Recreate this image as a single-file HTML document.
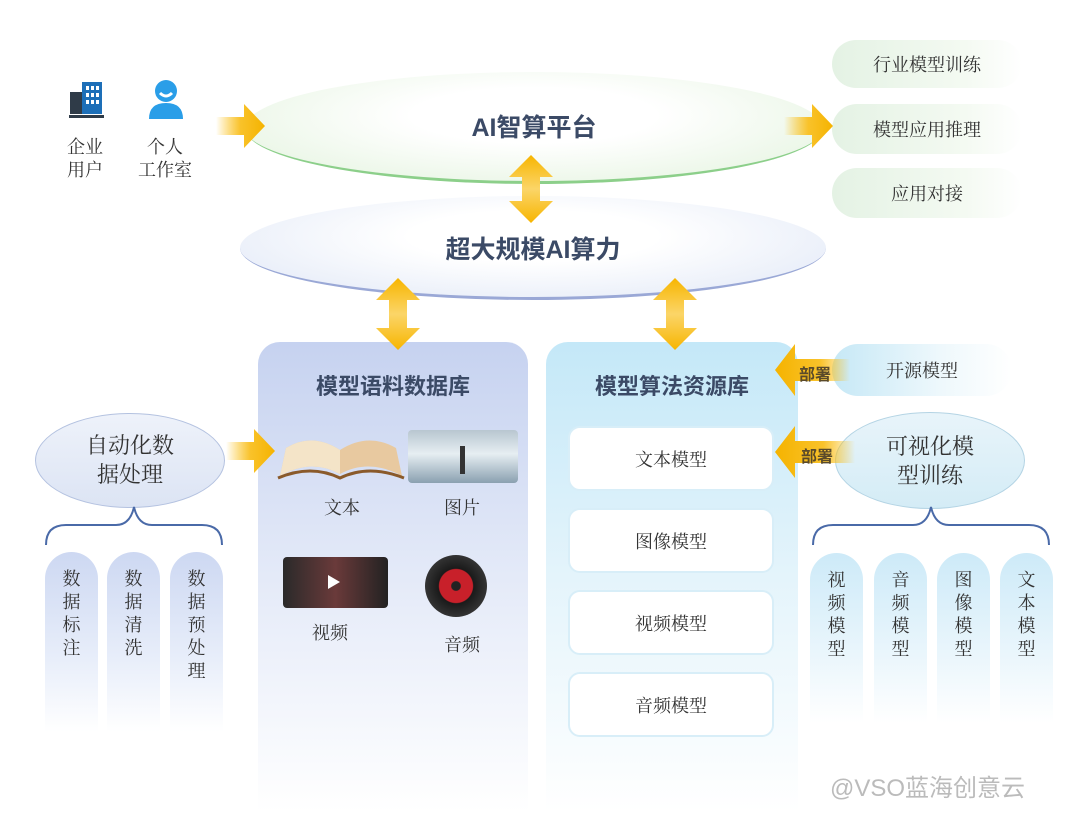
<!DOCTYPE html>
<html><head><meta charset="utf-8"><style>
body{margin:0;width:1080px;height:820px;background:#fff;position:relative;overflow:hidden;font-family:"Liberation Serif","Noto Serif CJK SC","Noto Sans CJK SC",serif;color:#333}
.a{position:absolute}
.t{position:absolute;text-align:center;white-space:nowrap}
.b{font-family:"Liberation Sans","Noto Sans CJK SC",sans-serif;font-weight:bold;color:#3b4a66}
.pill{position:absolute;border-radius:26px;background:linear-gradient(90deg,#e4f2e4,#f4faf2 70%,#fff);font-size:18px;display:flex;align-items:center;justify-content:center;color:#333}
.mb{position:absolute;left:568px;width:206px;height:65px;background:#fff;border:2px solid #d8eef8;border-radius:12px;box-sizing:border-box;font-size:18px;display:flex;align-items:center;justify-content:center}
.vp{position:absolute;width:53px;border-radius:27px 27px 0 0;background:linear-gradient(180deg,#cdeaf8,#eaf6fc 60%,#fff);font-size:18px;line-height:23px;text-align:center;padding-top:16px;box-sizing:border-box}
.vl{background:linear-gradient(180deg,#cdd8f2,#e8eefa 60%,#fff)}
</style></head><body>
<!-- icons -->
<svg class="a" style="left:68px;top:80px" width="38" height="40"><rect x="2" y="12" width="12" height="22" fill="#2f3b48"/><rect x="14" y="2" width="20" height="32" fill="#1d6fb8"/><g fill="#fff"><rect x="18" y="6" width="3" height="4"/><rect x="23" y="6" width="3" height="4"/><rect x="28" y="6" width="3" height="4"/><rect x="18" y="13" width="3" height="4"/><rect x="23" y="13" width="3" height="4"/><rect x="28" y="13" width="3" height="4"/><rect x="18" y="20" width="3" height="4"/><rect x="23" y="20" width="3" height="4"/><rect x="28" y="20" width="3" height="4"/></g><rect x="1" y="35" width="35" height="3" fill="#2f3b48"/></svg>
<svg class="a" style="left:146px;top:79px" width="40" height="42"><circle cx="20" cy="12" r="11" fill="#2a9ee8"/><path d="M3 40 Q3 24 20 24 Q37 24 37 40Z" fill="#2a9ee8"/><path d="M14 14 Q20 20 26 14" stroke="#fff" stroke-width="3" fill="none"/></svg>
<div class="t" style="left:60px;top:136px;width:50px;font-size:18px;line-height:23px">企业<br>用户</div>
<div class="t" style="left:130px;top:136px;width:70px;font-size:18px;line-height:23px">个人<br>工作室</div>
<!-- ellipses -->
<div class="a" style="left:245px;top:72px;width:578px;height:112px;border-radius:50%;background:radial-gradient(ellipse at 50% 40%,#fff 30%,#eaf6e6 80%);border-bottom:3px solid #8ccf8a;box-sizing:border-box"></div>
<div class="t b" style="left:245px;top:108px;width:578px;font-size:25px">AI智算平台</div>
<div class="a" style="left:240px;top:196px;width:586px;height:104px;border-radius:50%;background:radial-gradient(ellipse at 50% 40%,#fff 30%,#e6ecf8 85%);border-bottom:3px solid #9aa8d6;box-sizing:border-box"></div>
<div class="t b" style="left:240px;top:230px;width:586px;font-size:25px">超大规模AI算力</div>
<!-- right pills -->
<div class="pill" style="left:832px;top:40px;width:190px;height:48px">行业模型训练</div>
<div class="pill" style="left:832px;top:104px;width:190px;height:50px">模型应用推理</div>
<div class="pill" style="left:832px;top:168px;width:190px;height:50px">应用对接</div>
<div class="pill" style="left:832px;top:344px;width:180px;height:52px;background:linear-gradient(90deg,#c6e8f6,#eef8fc 60%,#fff)">开源模型</div>
<!-- panels -->
<div class="a" style="left:258px;top:342px;width:270px;height:470px;border-radius:22px 22px 0 0;background:linear-gradient(180deg,#c6d2f0,#e4eaf8 50%,#fff)"></div>
<div class="t b" style="left:258px;top:369px;width:270px;font-size:22px">模型语料数据库</div>
<div class="a" style="left:546px;top:342px;width:252px;height:470px;border-radius:22px 22px 0 0;background:linear-gradient(180deg,#c4e8f8,#e4f4fb 50%,#fff)"></div>
<div class="t b" style="left:546px;top:369px;width:252px;font-size:22px">模型算法资源库</div>
<div class="mb" style="top:426px">文本模型</div>
<div class="mb" style="top:508px">图像模型</div>
<div class="mb" style="top:590px">视频模型</div>
<div class="mb" style="top:672px">音频模型</div>
<!-- media -->
<svg class="a" style="left:276px;top:428px" width="130" height="56"><path d="M4 48 Q35 30 64 46 Q93 30 126 48 L120 20 Q92 4 64 22 Q36 4 10 20Z" fill="#e8c9a0"/><path d="M10 20 Q36 4 64 22 L64 46 Q35 30 4 48Z" fill="#f4e4c8"/><path d="M2 50 Q35 36 64 50 Q93 36 128 50" stroke="#8a5a2a" stroke-width="3" fill="none"/></svg>
<div class="a" style="left:408px;top:430px;width:110px;height:53px;border-radius:4px;background:linear-gradient(180deg,#b8c6d0,#e6eef2 45%,#8aa0b0)"></div>
<div class="a" style="left:460px;top:446px;width:5px;height:28px;background:#333"></div>
<div class="t" style="left:317px;top:494px;width:50px;font-size:18px">文本</div>
<div class="t" style="left:437px;top:494px;width:50px;font-size:18px">图片</div>
<div class="a" style="left:283px;top:557px;width:105px;height:51px;border-radius:4px;background:linear-gradient(90deg,#2a2a2a,#6a3a3a 50%,#222)"></div>
<div class="a" style="left:328px;top:575px;width:0;height:0;border-left:12px solid #fff;border-top:7px solid transparent;border-bottom:7px solid transparent"></div>
<div class="a" style="left:425px;top:555px;width:62px;height:62px;border-radius:50%;background:radial-gradient(circle,#222 10%,#c8202a 12%,#c8202a 38%,#1a1a1a 40%,#333 70%,#111)"></div>
<div class="t" style="left:305px;top:619px;width:50px;font-size:18px">视频</div>
<div class="t" style="left:437px;top:631px;width:50px;font-size:18px">音频</div>
<!-- left ellipse -->
<div class="a" style="left:35px;top:413px;width:190px;height:95px;border-radius:50%;background:linear-gradient(180deg,#eef2fa,#dce4f4);border:1.5px solid #b4c2e0;box-sizing:border-box"></div>
<div class="t" style="left:35px;top:431px;width:190px;font-size:22px;line-height:29px">自动化数<br>据处理</div>
<div class="vp vl" style="left:45px;top:552px;height:180px">数<br>据<br>标<br>注</div>
<div class="vp vl" style="left:107px;top:552px;height:180px">数<br>据<br>清<br>洗</div>
<div class="vp vl" style="left:170px;top:552px;height:180px">数<br>据<br>预<br>处<br>理</div>
<!-- right ellipse -->
<div class="a" style="left:835px;top:412px;width:190px;height:97px;border-radius:50%;background:linear-gradient(180deg,#e8f4fa,#d4ecf6);border:1.5px solid #b4d4e4;box-sizing:border-box"></div>
<div class="t" style="left:835px;top:432px;width:190px;font-size:22px;line-height:29px">可视化模<br>型训练</div>
<div class="vp" style="left:810px;top:553px;height:170px">视<br>频<br>模<br>型</div>
<div class="vp" style="left:874px;top:553px;height:170px">音<br>频<br>模<br>型</div>
<div class="vp" style="left:937px;top:553px;height:170px">图<br>像<br>模<br>型</div>
<div class="vp" style="left:1000px;top:553px;height:170px">文<br>本<br>模<br>型</div>
<!-- arrows on top -->
<svg class="a" style="left:0;top:0" width="1080" height="820">
<defs><linearGradient id="h" x1="0" x2="1"><stop offset="0" stop-color="#fbbc05" stop-opacity="0"/><stop offset="0.5" stop-color="#f9c22a"/><stop offset="1" stop-color="#f5b300"/></linearGradient>
<linearGradient id="hr" x1="1" x2="0"><stop offset="0" stop-color="#fbbc05" stop-opacity="0"/><stop offset="0.4" stop-color="#f9c22a"/><stop offset="1" stop-color="#f5b300"/></linearGradient>
<linearGradient id="v" x1="0" x2="0" y1="0" y2="1"><stop offset="0" stop-color="#f7b500"/><stop offset="0.5" stop-color="#fbd568"/><stop offset="1" stop-color="#f7b500"/></linearGradient></defs>
<path d="M216 117h28v-13l21 22-21 22v-13h-28z" fill="url(#h)"/>
<path d="M784 117h28v-13l21 22-21 22v-13h-28z" fill="url(#h)"/>
<path d="M226 442h28v-13l21 22-21 22v-13h-28z" fill="url(#h)"/>
<g fill="url(#v)"><path d="M531 155l-22 22h13v24h-13l22 22 22-22h-13v-24h13z"/><path d="M398 278l-22 22h13v28h-13l22 22 22-22h-13v-28h13z"/><path d="M675 278l-22 22h13v28h-13l22 22 22-22h-13v-28h13z"/></g>
<path d="M850 359h-55v-15l-20 26 20 26v-15h55z" fill="url(#hr)"/>
<path d="M855 441h-60v-15l-20 26 20 26v-15h60z" fill="url(#hr)"/>
<path d="M46 545q0-20 20-20h50q14 0 18-18q4 18 18 18h50q20 0 20 20" stroke="#4a6aa8" stroke-width="2" fill="none"/>
<path d="M813 545q0-20 20-20h80q14 0 18-18q4 18 18 18h80q20 0 20 20" stroke="#4a6aa8" stroke-width="2" fill="none"/>
</svg>
<div class="t b" style="left:790px;top:361px;width:50px;font-size:16px;color:#5a4a2a">部署</div>
<div class="t b" style="left:792px;top:443px;width:50px;font-size:16px;color:#5a4a2a">部署</div>
<div class="t" style="left:790px;top:768px;width:275px;font-size:24px;color:#bbb;font-family:'Liberation Sans','Noto Sans CJK SC',sans-serif">@VSO蓝海创意云</div>
</body></html>
